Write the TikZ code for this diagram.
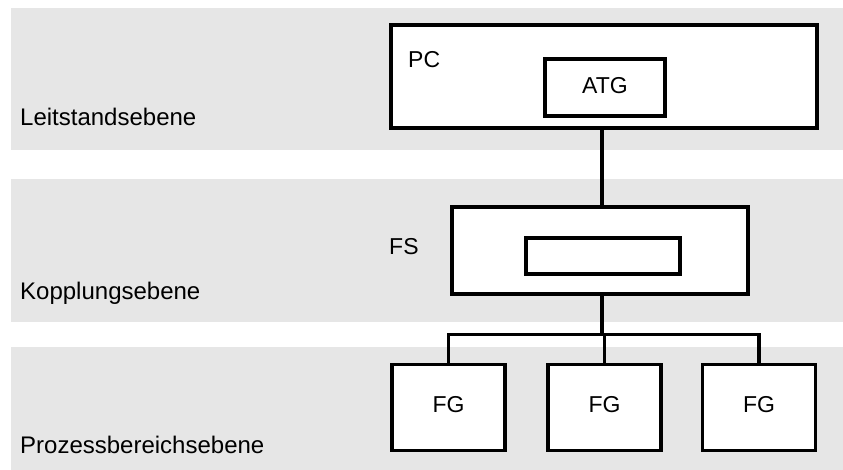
\documentclass[tikz,border=0pt]{standalone}
\usepackage{fontspec}
\setmainfont{Liberation Sans}
\begin{document}
\begin{tikzpicture}[x=1pt,y=-1pt,
  band/.style={fill=bandgray,draw=none,inner sep=0pt,anchor=north west},
  box/.style={draw=black,line width=3.8pt,fill=white,inner sep=0pt},
  conn/.style={draw=black,line width=3.3pt},
  lbl/.style={inner sep=0pt,font=\fontsize{24}{28}\selectfont},
  blbl/.style={inner sep=0pt,font=\fontsize{23}{28}\selectfont},
]
\definecolor{bandgray}{HTML}{E6E6E6}
\useasboundingbox (0,0) rectangle (843,470);
% bands
\node[band,minimum width=832pt,minimum height=142pt] (b1) at (11,8) {};
\node[band,minimum width=832pt,minimum height=143pt] (b2) at (11,179) {};
\node[band,minimum width=832pt,minimum height=123pt] (b3) at (11,347) {};
% level labels
\node[lbl,anchor=base west] (l1) at (20,126) {Leitstandsebene};
\node[lbl,anchor=base west] (l2) at (20,299) {Kopplungsebene};
\node[lbl,anchor=base west] (l3) at (20,453) {Prozessbereichsebene};
% PC
\node[box,minimum width=426pt,minimum height=103pt] (PC) at (604,76.5) {};
\node[blbl,anchor=base west] (pclbl) at (408,68) {PC};
\node[box,minimum width=120pt,minimum height=57pt] (ATG) at (605,87.5) {};
\node[blbl,anchor=base] (atglbl) at (605,94) {ATG};
% FS
\node[box,minimum width=296pt,minimum height=87pt] (FS) at (600,250.5) {};
\node[box,minimum width=154pt,minimum height=36pt] (FSin) at (603,256) {};
\node[blbl,anchor=base west] (fslbl) at (389,255) {FS};
% FG
\node[box,minimum width=113pt,minimum height=86pt] (FG1) at (448.5,407.5) {};
\node[box,minimum width=113pt,minimum height=86pt] (FG2) at (604.5,407.5) {};
\node[box,minimum width=113pt,minimum height=86pt] (FG3) at (759,407.5) {};
\node[blbl,anchor=base] (fg1lbl) at (448.5,412.5) {FG};
\node[blbl,anchor=base] (fg2lbl) at (604.5,412.5) {FG};
\node[blbl,anchor=base] (fg3lbl) at (759,412.5) {FG};
% connectors
\coordinate (bar) at (602,334.5);
\draw[conn] (PC.south -| bar) -- (FS.north -| bar);
\draw[conn] (FS.south -| bar) -- (bar);
\draw[conn] (FG1.north) -- (FG1.north |- bar) -- (FG3.north |- bar) -- (FG3.north);
\draw[conn] (FG2.north) -- (FG2.north |- bar);
\end{tikzpicture}
\end{document}
